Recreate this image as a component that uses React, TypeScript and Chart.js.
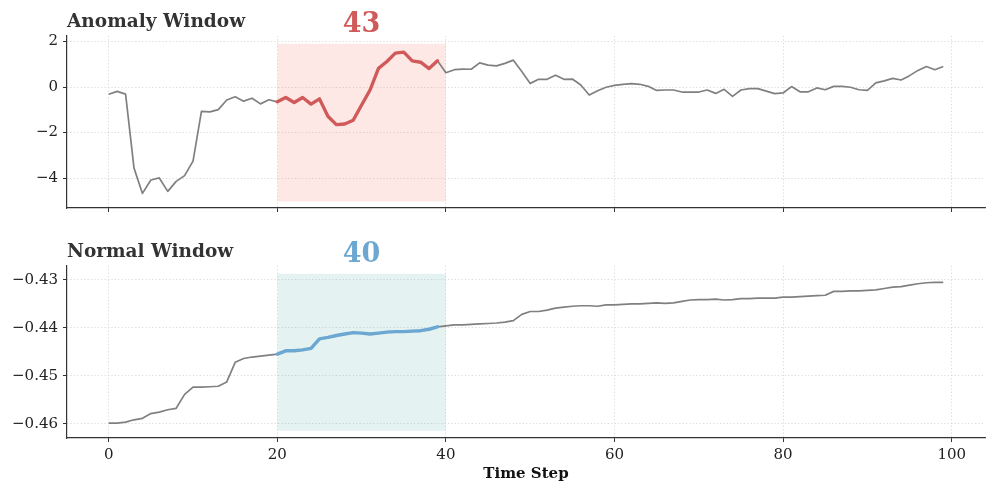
import React, { useEffect, useRef } from "react";
import { Chart, registerables } from "chart.js";

Chart.register(...registerables);

// ---------------- data ----------------
const anomalySeries: number[] = [
  -0.32, -0.19, -0.31, -3.56, -4.67, -4.08, -3.99, -4.58, -4.14, -3.89,
  -3.25, -1.07, -1.09, -0.99, -0.57, -0.43, -0.62, -0.49, -0.74, -0.56,
  -0.65, -0.46, -0.68, -0.46, -0.75, -0.52, -1.28, -1.65, -1.62, -1.46,
  -0.79, -0.13, 0.82, 1.12, 1.49, 1.53, 1.15, 1.09, 0.81, 1.15,
  0.63, 0.76, 0.79, 0.78, 1.06, 0.96, 0.93, 1.04, 1.18, 0.68,
  0.16, 0.34, 0.34, 0.52, 0.34, 0.35, 0.09, -0.35, -0.16, -0.01,
  0.07, 0.12, 0.15, 0.12, 0.03, -0.15, -0.13, -0.13, -0.22, -0.22,
  -0.22, -0.13, -0.28, -0.1, -0.41, -0.13, -0.07, -0.07, -0.18, -0.29,
  -0.26, 0.02, -0.21, -0.21, -0.04, -0.12, 0.03, 0.03, -0.01, -0.12,
  -0.15, 0.18, 0.27, 0.38, 0.31, 0.5, 0.73, 0.9, 0.76, 0.9,
];

const normalSeries: number[] = [
  -0.4599, -0.4599, -0.4597, -0.4592, -0.4589, -0.4579, -0.4576, -0.4571, -0.4568, -0.4539,
  -0.4524, -0.4524, -0.4523, -0.4522, -0.4513, -0.4472, -0.4464, -0.4461, -0.4459, -0.4457,
  -0.4455, -0.4448, -0.4448, -0.4446, -0.4443, -0.4423, -0.442, -0.4416, -0.4413, -0.441,
  -0.4411, -0.4413, -0.4411, -0.4409, -0.4408, -0.4408, -0.4407, -0.4406, -0.4403, -0.4398,
  -0.4396, -0.4394, -0.4394, -0.4393, -0.4392, -0.4391, -0.439, -0.4388, -0.4385, -0.4372,
  -0.4366, -0.4366, -0.4363, -0.4359, -0.4357, -0.4355, -0.4354, -0.4354, -0.4355, -0.4352,
  -0.4352, -0.4351, -0.435, -0.435, -0.4349, -0.4348, -0.4349, -0.4348, -0.4345, -0.4342,
  -0.4341, -0.4341, -0.434, -0.4342, -0.4341, -0.4339, -0.4339, -0.4338, -0.4338, -0.4338,
  -0.4336, -0.4336, -0.4335, -0.4334, -0.4333, -0.4332, -0.4324, -0.4324, -0.4323, -0.4323,
  -0.4322, -0.4321, -0.4318, -0.4315, -0.4314, -0.4311, -0.4308, -0.4306, -0.4305, -0.4305,
];

const timeSteps: number[] = anomalySeries.map((_, i) => i);

const windowStart = 20;
const windowEnd = 40;

const panelTitles = ["Anomaly Window", "Normal Window"];
const panelScores = ["43", "40"];

const xTicks = [0, 20, 40, 60, 80, 100];
const xRange = [-4.95, 103.95];
const xAxisTitle = "Time Step";

const anomalyYTicks = [-4, -2, 0, 2];
const anomalyYRange = [-5.31, 2.24];
const anomalyShade = [-5.02, 1.9];

const normalYTicks = [-0.46, -0.45, -0.44, -0.43];
const normalYRange = [-0.463, -0.4271];
const normalShade = [-0.4615, -0.4287];

// ---------------- styling ----------------
const FONT = '"DejaVu Serif", serif';
const minus = (s: string) => s.replace("-", "\u2212");

const titlePlugin = {
  id: "panelTitle",
  afterDraw(chart: any, _args: any, opts: any) {
    const { ctx, chartArea, scales } = chart;
    ctx.save();
    ctx.font = `bold 18.5px ${FONT}`;
    ctx.fillStyle = "#333333";
    ctx.textAlign = "left";
    ctx.textBaseline = "alphabetic";
    ctx.fillText(opts.title, chartArea.left, 26.5);
    ctx.font = `bold 27px ${FONT}`;
    ctx.fillStyle = opts.scoreColor;
    ctx.textAlign = "center";
    const cx = scales.x.getPixelForValue((opts.start + opts.end) / 2);
    ctx.fillText(opts.score, cx, 32);
    ctx.restore();
  },
};

type Panel = {
  series: number[];
  yTicks: number[];
  yRange: number[];
  shade: number[];
  color: string;
  shadeColor: string;
  title: string;
  score: string;
  showXLabels: boolean;
  xAxisHeight: number;
  fmt: (v: number) => string;
};

function makeConfig(p: Panel): any {
  const line = p.series.map((y, i) => ({ x: timeSteps[i], y }));
  const hi = line.filter((pt) => pt.x >= windowStart && pt.x < windowEnd);
  const shadeData = [
    { x: windowStart, y: p.shade[1] },
    { x: windowEnd, y: p.shade[1] },
  ];
  const grid = {
    color: "#d0d0d0",
    lineWidth: 0.8,
    tickColor: "#333333",
    tickLength: 4,
    tickWidth: 1,
  };
  const border = { display: true, color: "#333333", width: 1.2, dash: [1.2, 2.2] };
  return {
    type: "line",
    data: {
      datasets: [
        {
          data: hi,
          borderColor: p.color,
          borderWidth: 3.4,
          pointRadius: 0,
          order: 0,
          borderJoinStyle: "round",
          borderCapStyle: "round",
          fill: false,
        },
        {
          data: line,
          borderColor: "#808080",
          borderWidth: 1.7,
          pointRadius: 0,
          order: 1,
          borderJoinStyle: "round",
          fill: false,
        },
        {
          data: shadeData,
          borderWidth: 0,
          borderColor: "rgba(0,0,0,0)",
          backgroundColor: p.shadeColor,
          fill: { value: p.shade[0] },
          pointRadius: 0,
          order: 2,
        },
      ],
    },
    options: {
      responsive: false,
      animation: false,
      events: [],
      layout: { padding: { top: 36, right: 11, left: 0, bottom: 0 } },
      plugins: {
        legend: { display: false },
        tooltip: { enabled: false },
        panelTitle: {
          title: p.title,
          score: p.score,
          scoreColor: p.color,
          start: windowStart,
          end: windowEnd,
        },
      },
      scales: {
        x: {
          type: "linear",
          min: xRange[0],
          max: xRange[1],
          afterBuildTicks: (s: any) => {
            s.ticks = xTicks.map((v) => ({ value: v }));
          },
          afterFit: (s: any) => {
            s.height = p.xAxisHeight;
          },
          grid,
          border,
          ticks: {
            autoSkip: false,
            maxRotation: 0,
            padding: 4,
            color: "#222222",
            font: { family: FONT, size: 15 },
            callback: (v: any) => (p.showXLabels ? minus(String(v)) : ""),
          },
          title: {
            display: p.showXLabels,
            text: xAxisTitle,
            color: "#111111",
            font: { family: FONT, size: 15, weight: "bold" },
            padding: { top: 0, bottom: 10 },
          },
        },
        y: {
          type: "linear",
          min: p.yRange[0],
          max: p.yRange[1],
          afterBuildTicks: (s: any) => {
            s.ticks = p.yTicks.map((v) => ({ value: v }));
          },
          afterFit: (s: any) => {
            s.width = 67;
          },
          grid,
          border,
          ticks: {
            autoSkip: false,
            padding: 5,
            color: "#222222",
            font: { family: FONT, size: 15 },
            callback: (v: any) => p.fmt(Number(v)),
          },
        },
      },
    },
    plugins: [titlePlugin],
  };
}

const panels: Panel[] = [
  {
    series: anomalySeries,
    yTicks: anomalyYTicks,
    yRange: anomalyYRange,
    shade: anomalyShade,
    color: "#d05a5a",
    shadeColor: "rgba(250,128,114,0.18)",
    title: panelTitles[0],
    score: panelScores[0],
    showXLabels: false,
    xAxisHeight: 22,
    fmt: (v) => minus(String(v)),
  },
  {
    series: normalSeries,
    yTicks: normalYTicks,
    yRange: normalYRange,
    shade: normalShade,
    color: "#6ba7d1",
    shadeColor: "rgba(95,175,175,0.17)",
    title: panelTitles[1],
    score: panelScores[1],
    showXLabels: true,
    xAxisHeight: 55,
    fmt: (v) => minus(v.toFixed(2)),
  },
];

const heights = [230, 263];

export default function App() {
  const topRef = useRef<HTMLCanvasElement | null>(null);
  const botRef = useRef<HTMLCanvasElement | null>(null);

  useEffect(() => {
    const charts: Chart[] = [];
    [topRef.current, botRef.current].forEach((c, i) => {
      if (c) charts.push(new Chart(c, makeConfig(panels[i])));
    });
    return () => charts.forEach((ch) => ch.destroy());
  }, []);

  return (
    <div
      style={{
        position: "absolute",
        left: 0,
        top: 0,
        width: 996,
        height: 493,
        background: "#ffffff",
      }}
    >
      <canvas
        ref={topRef}
        width={996}
        height={heights[0]}
        style={{ display: "block", width: 996, height: heights[0] }}
      />
      <canvas
        ref={botRef}
        width={996}
        height={heights[1]}
        style={{ display: "block", width: 996, height: heights[1] }}
      />
    </div>
  );
}
